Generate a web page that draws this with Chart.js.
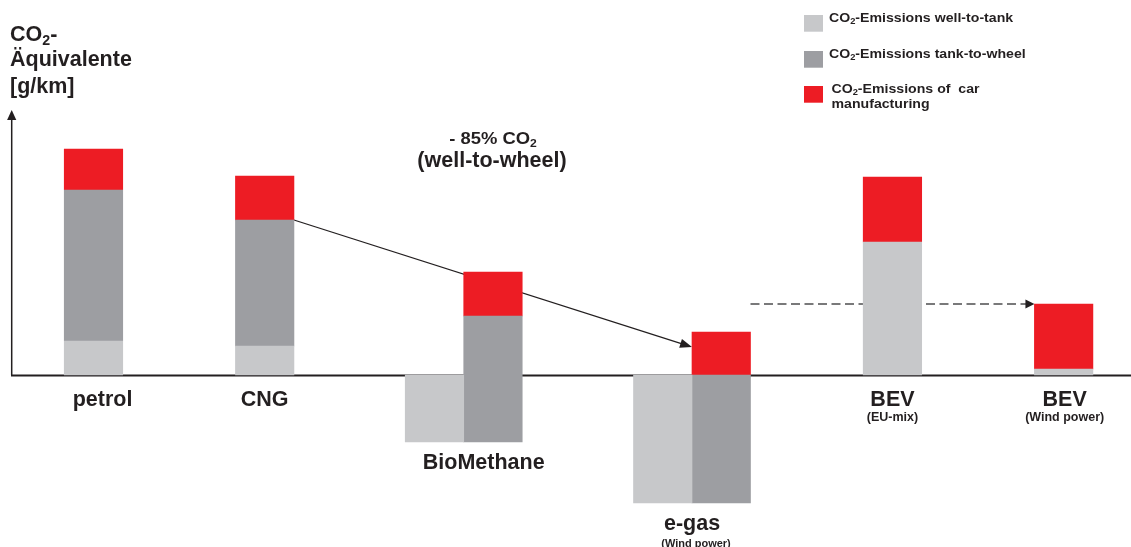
<!DOCTYPE html>
<html>
<head>
<meta charset="utf-8">
<title>CO2-Äquivalente</title>
<script src="https://cdn.jsdelivr.net/npm/chart.js@4.4.1/dist/chart.umd.min.js"></script>
<style>
  html, body { margin: 0; padding: 0; background: #ffffff; overflow: hidden; }
  #wrap { width: 1131px; height: 547px; }
</style>
</head>
<body>
<div id="wrap"><canvas id="chart" width="1131" height="547"></canvas></div>
<script>
// ---- data (g/km, CO2 equivalents) ----
const categories = ['petrol', 'CNG', 'BioMethane', 'e-gas', 'BEV', 'BEV'];
const subLabels = ['', '', '', '(Wind power)', '(EU-mix)', '(Wind power)'];
const wellToTank = [34, 29, -67, -128, 133, 6];
const tankToWheel = [151, 126, 126, 128, 0, 0];
const carManufacturing = [41, 44, 44, 43, 65, 65];
const legendLines = [
  ['CO2-Emissions well-to-tank'],
  ['CO2-Emissions tank-to-wheel'],
  ['CO2-Emissions of  car', 'manufacturing']
];

// ---- layout ----
const slots = [0, 3, 7, 11, 14, 17];          // column position of each category
const creditShift = 1.025;                    // negative well-to-tank bar sits left of its column
const labelNudge = [9, 0, 20, 0, 0, 1];       // small horizontal tweaks of the category labels
const arrowTarget = 28;                       // height where the solid arrow meets the e-gas column

const INK = '#231f20';
const COLORS = { wtt: '#c7c8ca', ttw: '#9d9ea2', mfg: '#ed1c24' };
const FONT = '"Liberation Sans", Arial, Helvetica, sans-serif';

// floating bars: well-to-tank from zero, tank-to-wheel on top of it, manufacturing last
const wttBars = wellToTank.map((v, i) => ({ x: v < 0 ? slots[i] - creditShift : slots[i], y: [0, v] }));
const ttwBars = tankToWheel.map((v, i) => ({ x: slots[i], y: v ? [wellToTank[i], wellToTank[i] + v] : null }));
const mfgBars = carManufacturing.map((v, i) => {
  const base = wellToTank[i] + tankToWheel[i];
  return { x: slots[i], y: [base, base + v] };
});

// rich text with "CO2" rendered as CO + subscript 2
function parts(str) {
  const out = [];
  const bits = str.split('CO2');
  bits.forEach((b, i) => {
    if (i > 0) { out.push(['CO', false]); out.push(['2', true]); }
    if (b) out.push([b, false]);
  });
  return out;
}
function drawRich(ctx, segs, x, y, size, align, stretch) {
  stretch = stretch || 1;
  const subSize = size * 0.66;
  let w = 0;
  const widths = segs.map(([t, sub]) => {
    ctx.font = 'bold ' + (sub ? subSize : size) + 'px ' + FONT;
    const m = ctx.measureText(t).width;
    w += m;
    return m;
  });
  const total = w * stretch;
  let x0 = align === 'center' ? x - total / 2 : x;
  ctx.save();
  ctx.translate(x0, y);
  ctx.scale(stretch, 1);
  ctx.fillStyle = INK;
  ctx.textBaseline = 'alphabetic';
  ctx.textAlign = 'left';
  let cx = 0;
  segs.forEach(([t, sub], i) => {
    ctx.font = 'bold ' + (sub ? subSize : size) + 'px ' + FONT;
    ctx.fillText(t, cx, sub ? size * 0.2 : 0);
    cx += widths[i];
  });
  ctx.restore();
}
function arrowHead(ctx, x1, y1, x2, y2, len, half) {
  const a = Math.atan2(y2 - y1, x2 - x1);
  ctx.beginPath();
  ctx.moveTo(x2, y2);
  ctx.lineTo(x2 - len * Math.cos(a) + half * Math.sin(a), y2 - len * Math.sin(a) - half * Math.cos(a));
  ctx.lineTo(x2 - len * Math.cos(a) - half * Math.sin(a), y2 - len * Math.sin(a) + half * Math.cos(a));
  ctx.closePath();
  ctx.fill();
}

const decorations = {
  id: 'decorations',
  beforeDatasetsDraw(chart) {
    const { ctx, chartArea } = chart;
    const xs = chart.scales.x, ys = chart.scales.y;
    const half = chart.getDatasetMeta(2).data[0].width / 2;
    const zero = ys.getPixelForValue(0);
    ctx.save();
    ctx.strokeStyle = INK;
    ctx.fillStyle = INK;

    // zero line across the chart
    ctx.lineWidth = 2;
    ctx.beginPath();
    ctx.moveTo(chartArea.left - 1, zero + 0.5);
    ctx.lineTo(chart.width, zero + 0.5);
    ctx.stroke();

    // vertical axis with arrow
    const ax = chartArea.left - 0.3;
    ctx.lineWidth = 1.5;
    ctx.beginPath();
    ctx.moveTo(ax, zero);
    ctx.lineTo(ax, chartArea.top + 6);
    ctx.stroke();
    arrowHead(ctx, ax, zero, ax, chartArea.top - 1, 10, 4.6);

    // solid arrow: CNG well-to-wheel down to the e-gas column
    const sx = xs.getPixelForValue(slots[1]) + half;
    const sy = ys.getPixelForValue(wellToTank[1] + tankToWheel[1]);
    const ex = xs.getPixelForValue(slots[3]) - half;
    const ey = ys.getPixelForValue(arrowTarget);
    ctx.lineWidth = 1.3;
    ctx.beginPath();
    ctx.moveTo(sx, sy);
    ctx.lineTo(ex - 6, ey - 6 * (ey - sy) / (ex - sx));
    ctx.stroke();
    arrowHead(ctx, sx, sy, ex, ey, 12, 4.6);

    // dashed arrow: level of BEV (wind power) carried over from the left
    const lvl = ys.getPixelForValue(wellToTank[5] + tankToWheel[5] + carManufacturing[5]);
    const dx0 = xs.getPixelForValue(slots[3]) + half;
    const dx1 = xs.getPixelForValue(slots[5]) - half;
    ctx.strokeStyle = '#4d4d4f';
    ctx.fillStyle = INK;
    ctx.lineWidth = 1.6;
    ctx.setLineDash([9, 4.5]);
    ctx.beginPath();
    ctx.moveTo(dx0, lvl);
    ctx.lineTo(dx1 - 8, lvl);
    ctx.stroke();
    ctx.setLineDash([]);
    arrowHead(ctx, dx0, lvl, dx1, lvl, 9, 4.5);
    ctx.restore();
  },
  afterDraw(chart) {
    const { ctx } = chart;
    const xs = chart.scales.x, ys = chart.scales.y;
    const half = chart.getDatasetMeta(2).data[0].width / 2;

    // axis title
    drawRich(ctx, parts('CO2-'), 10, 40.7, 21.5, 'left');
    drawRich(ctx, parts('Äquivalente'), 10, 65.7, 21.5, 'left');
    drawRich(ctx, parts('[g/km]'), 10, 93.3, 21.5, 'left');

    // reduction note
    drawRich(ctx, parts('- 85% CO2'), 493, 144, 16, 'center', 1.15);
    drawRich(ctx, parts('(well-to-wheel)'), 492, 166.5, 21.5, 'center');

    // category labels under each column
    categories.forEach((name, i) => {
      let cx = xs.getPixelForValue(slots[i]);
      const neg = wellToTank[i] < 0;
      if (neg) cx -= half;
      cx += labelNudge[i];
      const y = ys.getPixelForValue(Math.min(0, wellToTank[i])) + (neg ? 27 : 31);
      drawRich(ctx, parts(name), cx, y, 21.5, 'center');
      if (subLabels[i]) {
        drawRich(ctx, parts(subLabels[i]), cx + (neg ? 4 : 0), y + (neg ? 16.5 : 14.5), neg ? 11 : 12.5, 'center');
      }
    });

    // legend
    const swatches = [COLORS.wtt, COLORS.ttw, COLORS.mfg];
    const tops = [15, 51, 86];
    legendLines.forEach((lines, i) => {
      ctx.fillStyle = swatches[i];
      ctx.fillRect(804, tops[i], 19, 16.7);
      lines.forEach((ln, j) => {
        drawRich(ctx, parts(ln), i === 2 ? 831.5 : 829, tops[i] + 6.8 + j * 15.6, 12.5, 'left', 1.13);
      });
    });
  }
};

new Chart(document.getElementById('chart'), {
  type: 'bar',
  data: {
    datasets: [
      { label: legendLines[0].join(' '), data: wttBars, backgroundColor: COLORS.wtt },
      { label: legendLines[1].join(' '), data: ttwBars, backgroundColor: COLORS.ttw },
      { label: legendLines[2].join(' '), data: mfgBars, backgroundColor: COLORS.mfg }
    ]
  },
  options: {
    responsive: false,
    devicePixelRatio: 1,
    animation: false,
    events: [],
    grouped: false,
    categoryPercentage: 1,
    barPercentage: 1,
    borderWidth: 0,
    layout: { padding: { top: 111, bottom: 42, left: 12, right: 0 } },
    scales: {
      x: { type: 'linear', display: false, offset: false, min: -1.428, max: 18.18,
           ticks: { stepSize: 5, includeBounds: false } },
      y: { display: false, min: -130, max: 264 }
    },
    plugins: { legend: { display: false }, tooltip: { enabled: false } }
  },
  plugins: [decorations]
});
</script>
</body>
</html>
